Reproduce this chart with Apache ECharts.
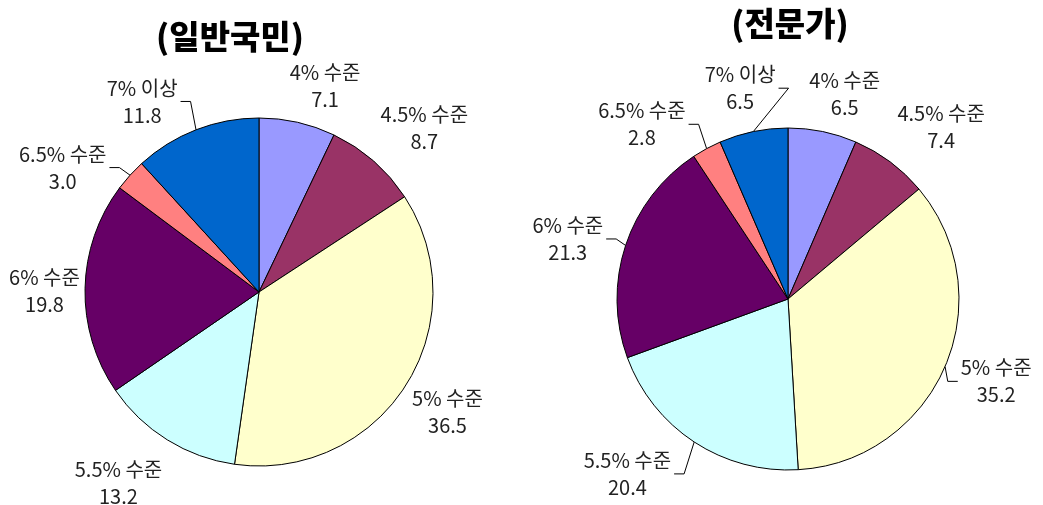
<html>
<head>
    <meta charset='utf-8'/>
    <title>Pie</title>
    <style>
        body { margin: 0; padding: 0; background: #fff; }
        #chart { width: 1043px; height: 505px; }
    </style>
</head>
<body>
<div id='chart'></div>
<script src="https://cdn.jsdelivr.net/npm/echarts@6/dist/echarts.min.js"></script>
<script type="text/javascript">
    var categories = ['4% 수준', '4.5% 수준', '5% 수준', '5.5% 수준', '6% 수준', '6.5% 수준', '7% 이상'];
    var publicValues = [7.1, 8.7, 36.5, 13.2, 19.8, 3.0, 11.8];
    var expertValues = [6.5, 7.4, 35.2, 20.4, 21.3, 2.8, 6.5];
    var titles = ['(일반국민)', '(전문가)'];
    // which labels get a leader line
    var publicLeaders = ['6.5% 수준', '7% 이상'];
    var expertLeaders = ['5% 수준', '5.5% 수준', '6% 수준', '6.5% 수준', '7% 이상'];

    // label nudges: [angle shift in degrees, extra distance in px]
    var publicNudge = [[5, -2], [4, 1], [0, -3], [4.6, 7], [-1, -3], [-9.8, -1], [-10.3, 0]];
    var expertNudge = [[3.8, -2], [5, 2], [-1.7, 2], [9.3, 9], [-3, 8], [-11.5, 0], [-1.1, 3]];

    var colors = ['#9999FF', '#993366', '#FFFFCC', '#CCFFFF', '#660066', '#FF8080', '#0066CC'];
    var centers = [[259, 292], [788, 299]];
    var radii = [174, 171];
    var nudges = [publicNudge, expertNudge];

    function buildData(values, leaders) {
        return values.map(function (v, i) {
            return {
                name: categories[i],
                value: v,
                itemStyle: {color: colors[i]},
                labelLine: {show: leaders.indexOf(categories[i]) >= 0}
            };
        });
    }

    function makeLayout(idx) {
        return function (params) {
            var c = centers[idx], R = radii[idx];
            var p0 = params.labelLinePoints ? params.labelLinePoints[0] : null;
            if (!p0) return {};
            var nd = nudges[idx][params.dataIndex];
            var ang = Math.atan2(p0[0] - c[0], -(p0[1] - c[1])) + nd[0] * Math.PI / 180;
            var ux = Math.sin(ang), uy = -Math.cos(ang);
            var w = params.labelRect.width, h = params.labelRect.height;
            var d = R + 8 + Math.abs(ux) * w / 2 + Math.abs(uy) * h / 2 + nd[1];
            var lx = c[0] + ux * d, ly = c[1] + uy * d;
            var side = ux > 0 ? -1 : 1;
            var sx = lx + side * (w / 2 + 3);
            var bx = sx + side * 10;
            return {
                x: lx,
                y: ly,
                align: 'center',
                verticalAlign: 'middle',
                labelLinePoints: [[p0[0], p0[1]], [bx, ly], [sx, ly]]
            };
        };
    }

    function pieSeries(idx, values, leaders) {
        return {
            type: 'pie',
            center: centers[idx],
            radius: radii[idx],
            startAngle: 90,
            clockwise: true,
            avoidLabelOverlap: false,
            animation: false,
            itemStyle: {borderColor: '#000', borderWidth: 1},
            label: {
                show: true,
                position: 'outside',
                formatter: function (p) {
                    return p.name + '\n' + p.value.toFixed(1);
                },
                fontFamily: 'Noto Sans CJK KR',
                fontSize: 20,
                lineHeight: 27,
                color: '#222'
            },
            labelLine: {
                length: 10,
                length2: 10,
                lineStyle: {color: '#000', width: 1}
            },
            labelLayout: makeLayout(idx),
            emphasis: {disabled: true},
            data: buildData(values, leaders)
        };
    }

    var chart = echarts.init(document.getElementById('chart'));
    var titleStyle = {fontFamily: 'Noto Sans CJK KR', fontWeight: 900, fontSize: 33, color: '#000'};
    chart.setOption({
        backgroundColor: '#fff',
        title: [
            {text: titles[0], left: 225, top: 15, textAlign: 'center', textStyle: titleStyle},
            {text: titles[1], left: 785, top: 2, textAlign: 'center', textStyle: titleStyle}
        ],
        series: [
            pieSeries(0, publicValues, publicLeaders),
            pieSeries(1, expertValues, expertLeaders)
        ]
    });
</script>
</body>
</html>
